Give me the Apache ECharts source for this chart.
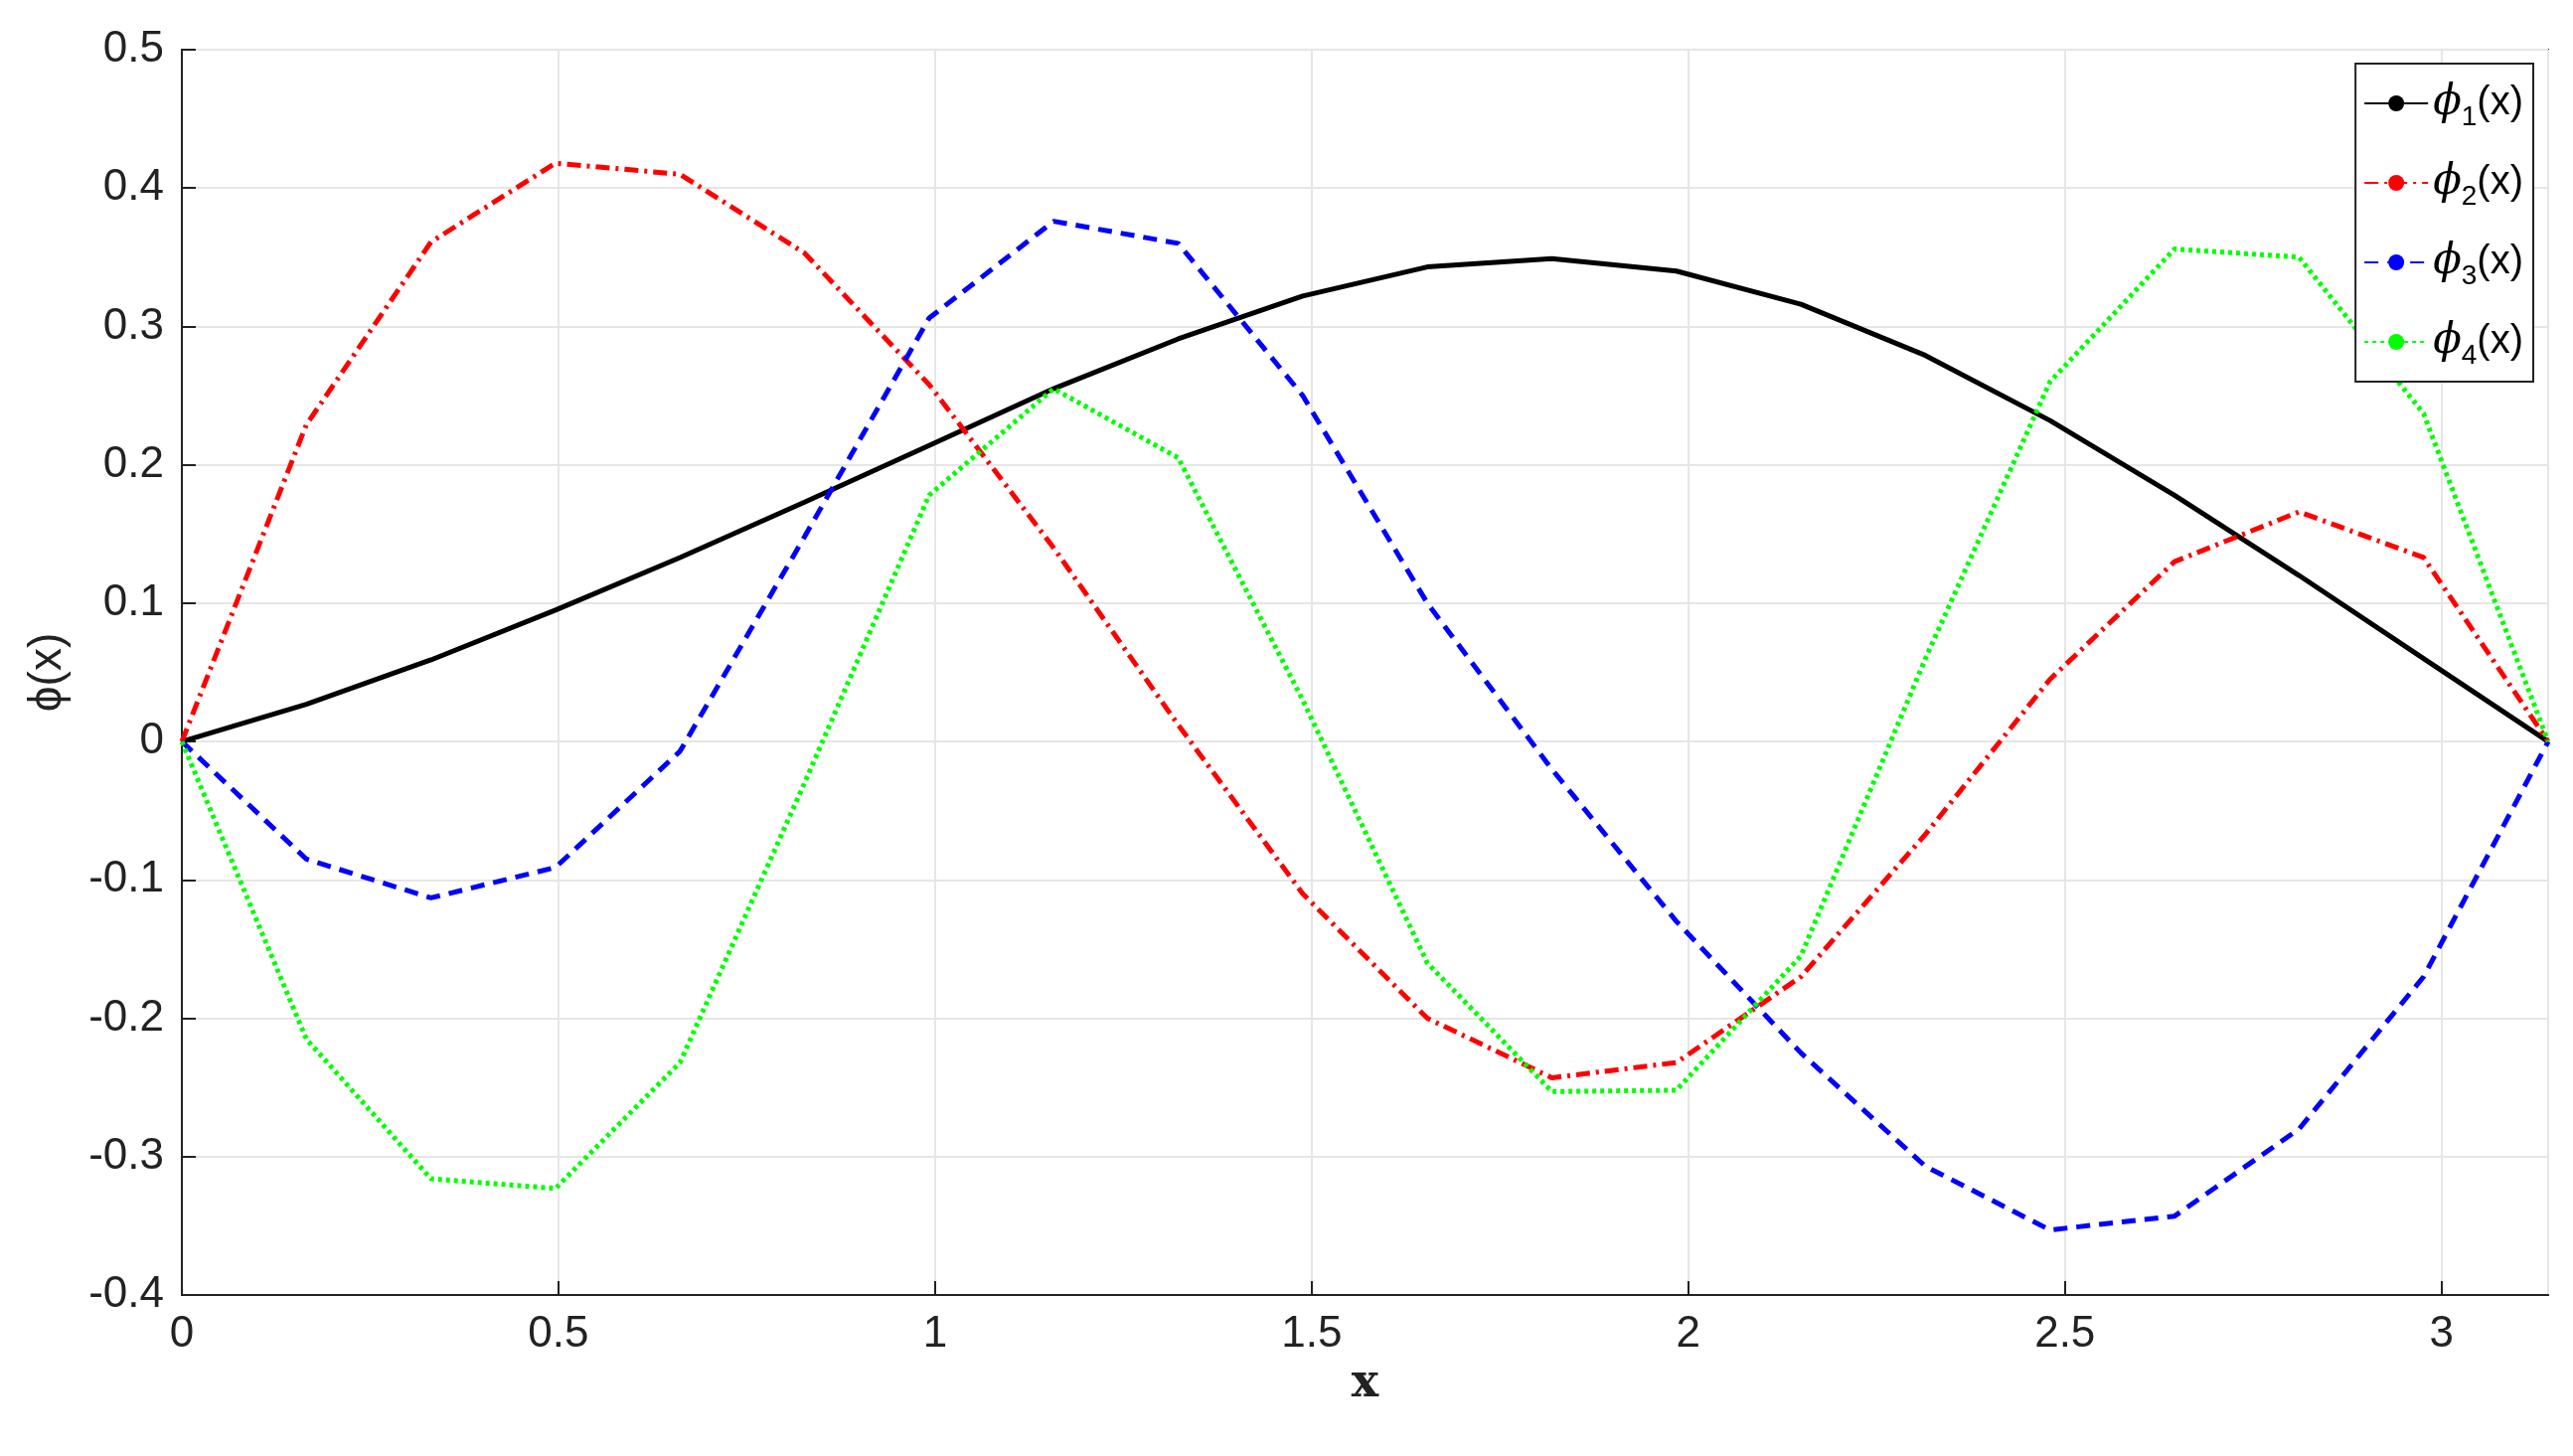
<!DOCTYPE html>
<html><head><meta charset="utf-8">
<script src="https://cdn.jsdelivr.net/npm/echarts@6/dist/echarts.min.js"></script>
<style>html,body{margin:0;background:#fff}#c{width:2589px;height:1465px}</style>
</head><body><div id="c"></div>
<script>
var xs = [0, 0.1653, 0.3307, 0.4960, 0.6614, 0.8267, 0.9921, 1.1574, 1.3228, 1.4881, 1.6535, 1.8188, 1.9842, 2.1495, 2.3149, 2.4802, 2.6456, 2.8109, 2.9762, 3.1416];
var phi1 = [0, 0.027, 0.059, 0.095, 0.133, 0.173, 0.214, 0.255, 0.291, 0.322, 0.343, 0.349, 0.340, 0.316, 0.279, 0.232, 0.178, 0.120, 0.060, 0];
var phi2 = [0, 0.229, 0.361, 0.418, 0.410, 0.353, 0.258, 0.140, 0.012, -0.110, -0.200, -0.243, -0.232, -0.170, -0.067, 0.045, 0.130, 0.166, 0.133, 0];
var phi3 = [0, -0.085, -0.113, -0.091, -0.007, 0.148, 0.306, 0.376, 0.360, 0.250, 0.100, -0.020, -0.130, -0.225, -0.307, -0.353, -0.343, -0.280, -0.170, 0];
var phi4 = [0, -0.215, -0.316, -0.323, -0.232, -0.030, 0.178, 0.255, 0.205, 0.030, -0.160, -0.253, -0.252, -0.155, 0.060, 0.260, 0.356, 0.350, 0.237, 0];

function pairs(ys){ return xs.map(function(x,i){ return [x, ys[i]]; }); }
var font = 'Liberation Sans';
var chart = echarts.init(document.getElementById('c'));
function ser(name, ys, color, type){
  return {name:name, type:'line', data:pairs(ys), symbol:'none', animation:false,
    lineStyle:{color:color, width:5, type:type}, itemStyle:{color:color}};
}
chart.setOption({
  textStyle:{fontFamily:font},
  grid:{left:183, right:25, top:50, bottom:162, show:true, borderColor:'#222', borderWidth:2},
  legend:{
    right:40, top:64, orient:'vertical', backgroundColor:'#fff', borderColor:'#222', borderWidth:2,
    padding:[12,10,12,8], itemWidth:64, itemHeight:20, itemGap:24,
    data:['phi1','phi2','phi3','phi4'],
    textStyle:{fontSize:40, color:'#000', fontFamily:font, lineHeight:56,
      rich:{i:{fontSize:42, fontStyle:'italic', fontFamily:'DejaVu Serif', lineHeight:56},
            s:{fontSize:28, lineHeight:56, verticalAlign:'bottom'},
            n:{fontSize:40, lineHeight:56}}},
    formatter:function(n){ return '{i|\u03d5}{s|' + n.slice(3) + '}{n|(x)}'; }
  },
  xAxis:{type:'value', min:0, max:3.14159, interval:0.5,
    name:'x', nameLocation:'middle', nameGap:66,
    nameTextStyle:{fontSize:46, fontWeight:'bold', fontFamily:'DejaVu Serif', color:'#222'},
    axisLine:{onZero:false, lineStyle:{color:'#222', width:2}}, axisTick:{inside:true, length:14, lineStyle:{color:'#222', width:2}},
    axisLabel:{fontSize:44, color:'#222', margin:18, showMaxLabel:false},
    splitLine:{show:true, lineStyle:{color:'#e6e6e6', width:2}}},
  yAxis:{type:'value', min:-0.4, max:0.5, interval:0.1,
    name:'\u03d5(x)', nameLocation:'middle', nameGap:112, nameRotate:90,
    nameTextStyle:{fontSize:46, color:'#222', fontFamily:font},
    axisLine:{onZero:false, lineStyle:{color:'#222', width:2}}, axisTick:{inside:true, length:14, lineStyle:{color:'#222', width:2}},
    axisLabel:{fontSize:44, color:'#222', margin:18, formatter:function(v){ return String(Math.round(v*10)/10); }},
    splitLine:{show:true, lineStyle:{color:'#e6e6e6', width:2}}},
  series:[
    ser('phi1', phi1, '#000000', 'solid'),
    ser('phi2', phi2, '#ff0000', [14,6,3,6]),
    ser('phi3', phi3, '#0000ff', [14,9]),
    ser('phi4', phi4, '#00ff00', [4,4])
  ]
});
</script></body></html>
